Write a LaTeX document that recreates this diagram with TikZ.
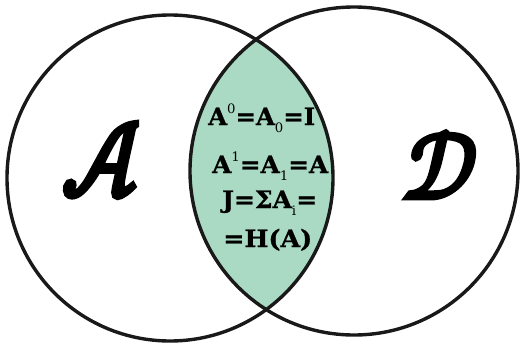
\documentclass[tikz,border=0pt]{standalone}
\usepackage{graphicx}
\usepackage{fontspec}
\newfontfamily\lensfont{DejaVu Serif}[BoldFeatures={FakeBold=1}]
\newfontfamily\calfont{latinmodern-math.otf}[FakeBold=6]
\definecolor{lensgreen}{HTML}{AADAC4}
\newcommand{\lsup}[1]{\raisebox{0.5em}{\fontsize{13}{13}\selectfont\mdseries #1}}
\newcommand{\lsub}[1]{\raisebox{-0.3em}{\fontsize{13}{13}\selectfont\mdseries #1}}
\tikzset{
  ring/.style={draw=black!90, line width=3.4pt},
  lensline/.style={anchor=base west, inner sep=0pt, font=\lensfont\bfseries\fontsize{24}{24}\selectfont},
  bigletter/.style={inner sep=0pt, anchor=center, font=\calfont\fontsize{20}{20}\selectfont}
}
\begin{document}
\begin{tikzpicture}[x=1pt,y=-1pt]
\useasboundingbox (0,0) rectangle (522,343);
\coordinate (cl) at (170,178);
\coordinate (cr) at (354,171);
\begin{scope}
  \clip (cl) circle[radius=163];
  \fill[lensgreen] (cr) circle[radius=164];
\end{scope}
\draw[ring] (cl) circle[radius=163];
\draw[ring] (cr) circle[radius=164];
\node[bigletter] (la) at (101,160) {\resizebox*{78pt}{74pt}{𝒜}};
\node[bigletter] (ld) at (440,165) {\resizebox*{74pt}{66pt}{𝒟}};
\node[lensline] (t1) at (208,125) {\resizebox{107pt}{\height}{A\lsup{0}=A\lsub{0}=I}};
\node[lensline] (t2) at (212,173) {\resizebox{116pt}{\height}{A\lsup{1}=A\lsub{1}=A}};
\node[lensline] (t3) at (222,208) {\resizebox{95pt}{\height}{J=ΣA\lsub{i}=}};
\node[lensline] (t4) at (223,247) {\resizebox{89pt}{\height}{=H(A)}};
\end{tikzpicture}
\end{document}
